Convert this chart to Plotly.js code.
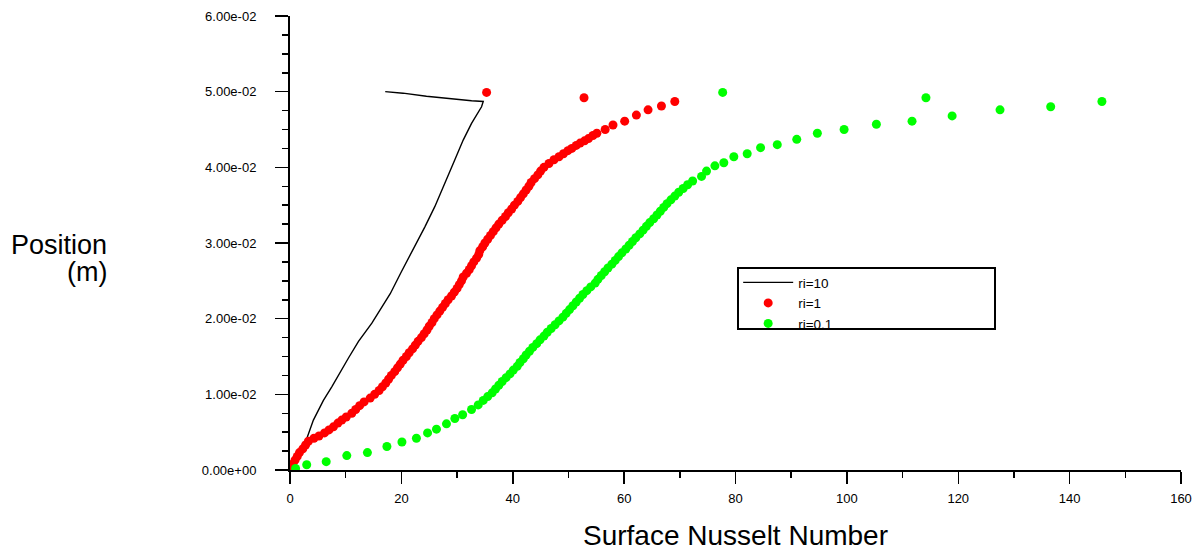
<!DOCTYPE html>
<html>
<head>
<meta charset="utf-8">
<script src="https://cdn.plot.ly/plotly-3.0.1.min.js"></script>
<style>
  html, body { margin: 0; padding: 0; background: #fff; }
  #chart { width: 1201px; height: 551px; }
</style>
</head>
<body>
<div id="chart"></div>
<script>
// ---- data (Surface Nusselt Number vs Position) ----
const seriesNames = ['ri=10', 'ri=1', 'ri=0.1'];

const riTenNu = [0, 1.2, 2.7, 4.2, 6.0, 7.5, 10.5, 12.3, 14.7, 18.0, 20.0, 22.7, 24.2, 26.0, 28.1, 29.6, 31.1, 32.6, 34.4, 34.7, 32.6, 28.4, 24.5, 20.3, 17.1];
const riTenPos = [0, 0.0018, 0.0035, 0.0066, 0.0092, 0.0110, 0.0148, 0.0170, 0.0194, 0.0233, 0.0262, 0.0299, 0.0321, 0.0348, 0.0383, 0.0410, 0.0436, 0.0458, 0.0480, 0.0487, 0.0488, 0.0491, 0.0494, 0.0498, 0.0500];

const riOneNu = [0.2, 0.5, 0.9, 1.3, 1.7, 2.3, 2.8, 3.3, 4.3, 5.2, 6.2, 7.0, 7.8, 8.6, 9.3, 10.1, 11.1, 11.8, 12.5, 13.3,
  14.4, 15.2, 16.0, 16.6, 17.2, 17.7, 18.2, 18.8, 19.3, 19.8, 20.3, 20.9, 21.4, 22.0, 22.5, 23.0, 23.6, 24.1, 24.6, 25.0,
  25.5, 25.9, 26.4, 26.9, 27.4, 27.9, 28.4, 29.0, 29.5, 30.0, 30.4, 30.8, 31.1, 31.7, 32.2, 32.6, 33.0, 33.5, 33.9, 34.1,
  34.6, 35.0, 35.5, 36.0, 36.5, 37.0, 37.5, 38.1, 38.7, 39.2, 39.8, 40.3, 40.9, 41.4, 41.9, 42.4, 42.9, 43.3, 43.9, 44.5,
  45.0, 45.6, 46.5, 47.4, 48.3, 49.1, 49.9, 50.6, 51.4, 52.1, 52.9, 53.6, 54.4, 55.1, 56.6, 58.0, 60.1, 62.2, 64.3, 66.7,
  69.1, 35.3, 52.8];
const riOnePos = [0.0003, 0.0008, 0.0013, 0.0018, 0.0023, 0.0028, 0.0033, 0.0038, 0.0042, 0.0045, 0.0049, 0.0053, 0.0057, 0.0062, 0.0066, 0.0070, 0.0075, 0.0080, 0.0085, 0.0090,
  0.0095, 0.0100, 0.0105, 0.0110, 0.0115, 0.0120, 0.0125, 0.0130, 0.0135, 0.0140, 0.0145, 0.0150, 0.0155, 0.0160, 0.0165, 0.0170, 0.0175, 0.0180, 0.0185, 0.0190,
  0.0195, 0.0200, 0.0205, 0.0210, 0.0215, 0.0220, 0.0225, 0.0230, 0.0235, 0.0240, 0.0245, 0.0250, 0.0255, 0.0260, 0.0265, 0.0270, 0.0275, 0.0280, 0.0285, 0.0290,
  0.0295, 0.0300, 0.0305, 0.0310, 0.0315, 0.0320, 0.0325, 0.0330, 0.0335, 0.0340, 0.0345, 0.0350, 0.0355, 0.0360, 0.0365, 0.0370, 0.0375, 0.0380, 0.0385, 0.0390,
  0.0395, 0.0400, 0.0405, 0.0410, 0.0414, 0.0418, 0.0422, 0.0425, 0.0429, 0.0432, 0.0435, 0.0438, 0.0442, 0.0445, 0.0450, 0.0456, 0.0461, 0.0469, 0.0476, 0.0481,
  0.0487, 0.0499, 0.0492];

const riPointOneNu = [1.0, 3.0, 6.5, 10.2, 13.9, 17.4, 20.1, 22.7, 24.7, 26.3, 28.1, 29.6, 31.0, 32.6, 33.8, 34.7, 35.5, 36.3, 36.9, 37.5,
  38.1, 38.8, 39.5, 40.1, 40.8, 41.3, 41.9, 42.4, 43.0, 43.6, 44.3, 44.9, 45.6, 46.2, 46.9, 47.6, 48.3, 49.0, 49.6, 50.2,
  50.8, 51.4, 52.0, 52.6, 53.3, 54.0, 54.8, 55.3, 55.9, 56.5, 57.1, 57.8, 58.4, 59.0, 59.6, 60.3, 60.9, 61.5, 62.1, 62.8,
  63.4, 64.0, 64.6, 65.3, 65.9, 66.5, 67.1, 67.7, 68.4, 69.1, 69.8, 70.6, 71.4, 72.3, 73.9, 74.8, 76.3, 77.9, 79.7, 82.1,
  84.5, 87.5, 91.0, 94.7, 99.5, 105.3, 111.7, 118.9, 127.5, 136.6, 145.8, 77.7, 114.2];
const riPointOnePos = [0.0002, 0.0007, 0.0011, 0.0019, 0.0023, 0.0031, 0.0037, 0.0042, 0.0049, 0.0054, 0.0061, 0.0068, 0.0073, 0.0080, 0.0086, 0.0092, 0.0097, 0.0102, 0.0107, 0.0112,
  0.0117, 0.0122, 0.0127, 0.0132, 0.0137, 0.0142, 0.0147, 0.0152, 0.0157, 0.0162, 0.0167, 0.0172, 0.0177, 0.0182, 0.0187, 0.0192, 0.0197, 0.0202, 0.0207, 0.0212,
  0.0217, 0.0222, 0.0227, 0.0232, 0.0237, 0.0242, 0.0247, 0.0252, 0.0257, 0.0262, 0.0267, 0.0272, 0.0277, 0.0282, 0.0287, 0.0292, 0.0297, 0.0302, 0.0307, 0.0312,
  0.0317, 0.0322, 0.0327, 0.0332, 0.0337, 0.0342, 0.0347, 0.0352, 0.0357, 0.0362, 0.0367, 0.0372, 0.0377, 0.0382, 0.0388, 0.0395, 0.0402, 0.0406, 0.0414, 0.0418,
  0.0426, 0.0430, 0.0437, 0.0445, 0.0450, 0.0457, 0.0461, 0.0468, 0.0476, 0.0480, 0.0487, 0.0499, 0.0492];

const yTickVals = [0, 0.01, 0.02, 0.03, 0.04, 0.05, 0.06];
const yTickText = ['0.00e+00', '1.00e-02', '2.00e-02', '3.00e-02', '4.00e-02', '5.00e-02', '6.00e-02'];
const xTickVals = [0, 20, 40, 60, 80, 100, 120, 140, 160];
const xTickText = ['0', '20', '40', '60', '80', '100', '120', '140', '160'];

const FONT = 'Liberation Sans, Arial, sans-serif';

const traces = [
  { x: riTenNu, y: riTenPos, name: seriesNames[0], type: 'scatter', mode: 'lines',
    line: { color: '#000000', width: 1.4 } },
  { x: riOneNu, y: riOnePos, name: seriesNames[1], type: 'scatter', mode: 'markers',
    marker: { color: '#ff0000', size: 9, line: { width: 0 } } },
  { x: riPointOneNu, y: riPointOnePos, name: seriesNames[2], type: 'scatter', mode: 'markers',
    marker: { color: '#00ff00', size: 9, line: { width: 0 } } }
];

const layout = {
  width: 1201, height: 551,
  margin: { l: 290, r: 20, t: 16, b: 81 },
  paper_bgcolor: '#ffffff', plot_bgcolor: '#ffffff',
  font: { family: FONT, color: '#000' },
  showlegend: true,
  legend: {
    x: 0.503, y: 0.447, xanchor: 'left', yanchor: 'top',
    bgcolor: 'rgba(0,0,0,0)', borderwidth: 0,
    font: { family: FONT, size: 13.5, color: '#000' },
    tracegroupgap: 0, itemwidth: 50
  },
  xaxis: {
    range: [0, 160], showgrid: false, zeroline: false,
    showline: true, linecolor: '#000', linewidth: 2,
    ticks: 'outside', ticklen: 12, tickwidth: 1.5, tickcolor: '#000',
    tickvals: xTickVals, ticktext: xTickText,
    tickfont: { family: FONT, size: 13, color: '#000' },
    ticklabelstandoff: 3,
    minor: { dtick: 10, ticks: 'outside', ticklen: 6, tickwidth: 1.5, tickcolor: '#000' },
    title: { text: 'Surface Nusselt Number', font: { family: FONT, size: 28, color: '#000' }, standoff: 24 },
    automargin: false
  },
  yaxis: {
    range: [0, 0.06], showgrid: false, zeroline: false,
    showline: true, linecolor: '#000', linewidth: 2,
    ticks: 'outside', ticklen: 13, tickwidth: 1.5, tickcolor: '#000',
    tickvals: yTickVals, ticktext: yTickText,
    tickfont: { family: FONT, size: 13, color: '#000' },
    ticklabelstandoff: 16,
    minor: { dtick: 0.0025, ticks: 'outside', ticklen: 6, tickwidth: 1.5, tickcolor: '#000' },
    automargin: false
  },
  shapes: [
    { type: 'rect', xref: 'paper', yref: 'paper',
      x0: (738 - 290) / 891, x1: (995 - 290) / 891,
      y0: (470 - 329) / 454, y1: (470 - 268) / 454,
      line: { color: '#000', width: 2 }, fillcolor: 'rgba(0,0,0,0)' }
  ],
  annotations: [
    { text: 'Position', xref: 'paper', yref: 'paper', x: (109 - 290) / 891, y: (470 - 245) / 454,
      xanchor: 'right', yanchor: 'middle', showarrow: false,
      font: { family: FONT, size: 27, color: '#000' } },
    { text: '(m)', xref: 'paper', yref: 'paper', x: (109 - 290) / 891, y: (470 - 272) / 454,
      xanchor: 'right', yanchor: 'middle', showarrow: false,
      font: { family: FONT, size: 27, color: '#000' } }
  ]
};

Plotly.newPlot('chart', traces, layout, { staticPlot: true, displayModeBar: false });
</script>
</body>
</html>
